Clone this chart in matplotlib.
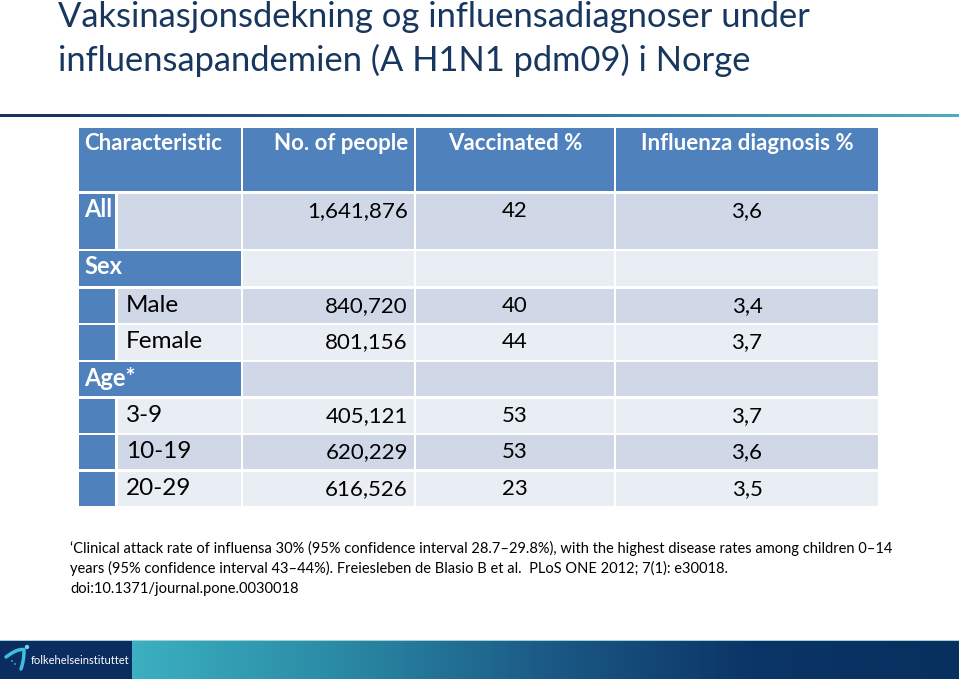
import matplotlib.pyplot as plt
import numpy as np
from matplotlib.colors import LinearSegmentedColormap
from matplotlib.patches import Rectangle, Circle

plt.rcParams['font.family'] = ['Lato', 'DejaVu Sans']

# --- innhold ---
title_lines = ["Vaksinasjonsdekning og influensadiagnoser under",
               "influensapandemien (A H1N1 pdm09) i Norge"]
headers = ["Characteristic", "No. of people", "Vaccinated %", "Influenza diagnosis %"]
row_labels = ["All", "Sex", "Male", "Female", "Age*", "3-9", "10-19", "20-29"]
row_kind = ["top", "group", "sub", "sub", "group", "sub", "sub", "sub"]
people = ["1,641,876", "", "840,720", "801,156", "", "405,121", "620,229", "616,526"]
vaccinated = ["42", "", "40", "44", "", "53", "53", "23"]
influenza = ["3,6", "", "3,4", "3,7", "", "3,7", "3,6", "3,5"]
footnote = [
    "\u2018Clinical attack rate of influensa 30% (95% confidence interval 28.7\u201329.8%), "
    "with the highest disease rates among children 0\u201314",
    "years (95% confidence interval 43\u201344%). Freiesleben de Blasio B et al.  "
    "PLoS ONE 2012; 7(1): e30018.",
    "doi:10.1371/journal.pone.0030018",
]

# farger
blue = '#4F81BD'
shade_dark = '#D0D8E8'
shade_light = '#E9EDF4'
title_col = '#17375E'

fig = plt.figure(figsize=(9.59, 6.79), dpi=100)
ax = fig.add_axes([0, 0, 1, 1])

# tittel
for i, line in enumerate(title_lines):
    ax.text(58, 27 + 44 * i, line, fontsize=24.8, color=title_col,
            ha='left', va='baseline')

# gradientlinje under tittel
line_cmap = LinearSegmentedColormap.from_list('ln', ['#1B3F6E', '#2F6E95', '#4AAEC0'])
ax.add_patch(Rectangle((0, 114), 80, 3, color='#16365C', lw=0))
ax.imshow(np.linspace(0, 1, 256)[None, :], cmap=line_cmap, aspect='auto',
          extent=[80, 959, 117, 114.5])

# tabell
col_b = [78, 116.5, 242, 415, 615, 879]
row_b = [127, 192.5, 250, 287.5, 324, 361, 397.5, 434, 470.5, 507]
g = 1.25
fs_lab = 17.5
fs_num = 16


def cell(x0, x1, y0, y1, color):
    ax.add_patch(Rectangle((x0 + g, y0 + g), x1 - x0 - 2 * g, y1 - y0 - 2 * g,
                           color=color, lw=0))


# header
cell(col_b[0], col_b[2], row_b[0], row_b[1], blue)
for c in range(2, 5):
    cell(col_b[c], col_b[c + 1], row_b[0], row_b[1], blue)
ty = row_b[0] + 23.5
hkw = dict(fontsize=16, color='white', fontweight='bold', va='baseline')
ax.text(84, ty, headers[0], ha='left', **hkw)
ax.text(408, ty, headers[1], ha='right', **hkw)
ax.text(515, ty, headers[2], ha='center', **hkw)
ax.text(747, ty, headers[3], ha='center', **hkw)

for i, lab in enumerate(row_labels):
    y0, y1 = row_b[i + 1], row_b[i + 2]
    shade = shade_dark if i % 2 == 0 else shade_light
    ty = y0 + 24.5
    if row_kind[i] == 'group':
        cell(col_b[0], col_b[2], y0, y1, blue)
    else:
        cell(col_b[0], col_b[1], y0, y1, blue)
        cell(col_b[1], col_b[2], y0, y1, shade)
    for c in range(2, 5):
        cell(col_b[c], col_b[c + 1], y0, y1, shade)

    if row_kind[i] == 'sub':
        ax.text(126, ty, lab, fontsize=fs_lab, color='black', ha='left', va='baseline')
    else:
        ax.text(84, ty, lab, fontsize=fs_lab - 0.5, color='white', fontweight='bold',
                ha='left', va='baseline')
    ax.text(408, ty, people[i], fontsize=fs_num, ha='right', va='baseline')
    ax.text(515, ty, vaccinated[i], fontsize=fs_num, ha='center', va='baseline')
    ax.text(747, ty, influenza[i], fontsize=fs_num, ha='center', va='baseline')

# fotnote
for i, line in enumerate(footnote):
    ax.text(70, 553 + 20 * i, line, fontsize=10.5, color='black',
            ha='left', va='baseline')

# bunnlinje med logo
bar_cmap = LinearSegmentedColormap.from_list('bar', ['#3BB0C0', '#2A8AA5', '#1B5A86', '#0B3566', '#08305F'])
ax.add_patch(Rectangle((0, 641), 132, 38, color='#0B2C5E', lw=0))
ax.imshow(np.linspace(0, 1, 256)[None, :], cmap=bar_cmap, aspect='auto',
          extent=[132, 959, 679, 641])
ax.add_patch(Rectangle((0, 640), 959, 1.2, color='#9FD3DC', lw=0))

# logo-figur
t = np.linspace(0, 1, 30)
ax.plot(6 + 18 * t, 657 - 9 * np.sin(t * np.pi / 2) + 1.5 * t, color='#3DBFE0',
        lw=2.5, solid_capstyle='round')
ax.plot(24 - 3 * t ** 2, 651 + 18 * t, color='#3DBFE0', lw=2.5,
        solid_capstyle='round')
ax.add_patch(Circle((27, 647), 2.2, color='#6FD3EE', lw=0))
ax.add_patch(Circle((12, 661), 0.9, color='#3DBFE0', lw=0))
ax.add_patch(Circle((15, 664), 0.9, color='#3DBFE0', lw=0))
ax.text(31, 661, "folkehelseinstituttet", fontsize=8, color='white',
        ha='left', va='center')

ax.set_xlim(0, 959)
ax.set_ylim(679, 0)
ax.axis('off')

fig.savefig('out.png', dpi=100)
